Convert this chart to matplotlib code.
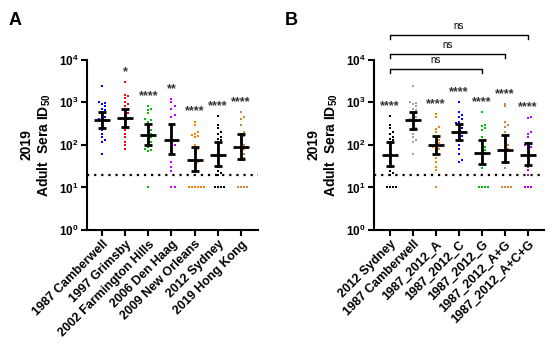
import numpy as np
import matplotlib
matplotlib.use('Agg')
import matplotlib.pyplot as plt
import matplotlib.transforms as mtransforms

plt.rcParams['font.family'] = ['Liberation Sans', 'DejaVu Sans']
plt.rcParams['font.weight'] = 'bold'
plt.rcParams['mathtext.fontset'] = 'custom'
plt.rcParams['mathtext.rm'] = 'Liberation Sans:bold'
plt.rcParams['mathtext.bf'] = 'Liberation Sans:bold'

# ---------------- panel A data ----------------
labels_a = ["1987 Camberwell", "1997 Grimsby", "2002 Farmington Hills", "2006 Den Haag",
            "2009 New Orleans", "2012 Sydney", "2019 Hong Kong"]
colors_a = ["#0000ff", "#ff0000", "#00c000", "#c000ff", "#ff8000", "#000000", "#c8873a"]
camberwell = [2400, 1000, 950, 900, 800, 700, 650, 600, 500, 450, 420, 400, 380, 350,
              300, 250, 220, 180, 150, 130, 120, 60]
grimsby = [3000, 1500, 1400, 1300, 1000, 900, 800, 700, 650, 550, 500, 420, 400, 350,
           300, 250, 220, 180, 150, 120, 100, 80]
farmington = [800, 700, 650, 550, 400, 380, 350, 300, 250, 220, 200, 180, 170, 150,
              140, 120, 110, 100, 90, 80, 75, 70, 10]
den_haag = [1200, 1000, 800, 700, 500, 450, 300, 250, 200, 150, 120, 100, 90, 70, 60,
            40, 30, 25, 10, 10]
new_orleans = [350, 300, 200, 180, 170, 160, 150, 100, 80, 70, 60, 50, 40, 35, 30,
               10, 10, 10, 10, 10, 10]
sydney = [480, 300, 250, 200, 180, 150, 140, 130, 120, 100, 80, 60, 50, 40, 30, 25,
          22, 20, 10, 10, 10, 10]
hong_kong = [600, 450, 400, 300, 200, 180, 160, 150, 130, 100, 90, 80, 70, 60, 55, 50,
             45, 10, 10, 10, 10]
groups_a = [camberwell, grimsby, farmington, den_haag, new_orleans, sydney, hong_kong]
center_a = [380, 430, 172, 130, 44, 58, 89]
low_a = [250, 265, 100, 61, 24, 32, 47]
high_a = [610, 700, 310, 310, 90, 117, 180]
stars_a = ["", "*", "****", "**", "****", "****", "****"]

# ---------------- panel B data ----------------
labels_b = ["2012 Sydney", "1987 Camberwell", "1987_2012_A", "1987_2012_C", "1987_2012_G",
            "1987_2012_A+G", "1987_2012_A+C+G"]
colors_b = ["#000000", "#a0a0a0", "#ff8000", "#0000ff", "#00c000", "#c8873a", "#c000ff"]
mut_a = [530, 450, 260, 240, 200, 150, 130, 120, 110, 100, 95, 90, 85, 80, 70, 60, 50,
         40, 30, 26, 10]
mut_c = [1000, 600, 500, 450, 400, 350, 320, 300, 280, 250, 220, 200, 180, 160, 150,
         130, 100, 80, 60, 45, 40]
mut_g = [600, 300, 280, 250, 230, 150, 130, 120, 100, 90, 85, 75, 70, 65, 60, 50, 40,
         28, 10, 10, 10, 10]
mut_ag = [920, 800, 350, 300, 270, 200, 170, 150, 130, 110, 100, 90, 80, 70, 60, 50,
          40, 28, 10, 10, 10, 10]
mut_acg = [450, 430, 200, 180, 150, 110, 100, 95, 90, 80, 60, 50, 40, 30, 26, 20, 10,
           10, 10]
groups_b = [sydney, camberwell, mut_a, mut_c, mut_g, mut_ag, mut_acg]
center_b = [58, 390, 100, 200, 65, 76, 58]
low_b = [32, 240, 61, 130, 36, 40, 34]
high_b = [117, 600, 163, 310, 130, 170, 110]
stars_b = ["****", "", "****", "****", "****", "****", "****"]
# brackets: (from group, to group, axes-y of bar)
brackets = [(0, 4, 0.947), (0, 5, 1.035), (0, 6, 1.147)]

cutoff = 20


def swarm(vals, dx=0.13, dy=0.06):
    logs = np.log10(vals)
    offs = np.zeros(len(vals))
    placed = []
    for i in np.argsort(logs):
        for k in range(40):
            cand = ((k + 1) // 2) * dx * (1 if k % 2 else -1)
            if all(abs(cand - ox) > dx * 0.9 or abs(logs[i] - oy) >= dy for ox, oy in placed):
                break
        offs[i] = cand
        placed.append((cand, logs[i]))
    return offs


def panel(ax, labels, colors, groups, center, low, high, stars, xlim):
    for i, (vals, c) in enumerate(zip(groups, colors)):
        x = i + swarm(vals)
        ax.scatter(x, vals, s=2.2, marker='s', color=c, linewidths=0, zorder=2)
        ax.vlines(i, low[i], high[i], color='black', lw=2, zorder=3)
        ax.hlines(center[i], i - 0.34, i + 0.34, color='black', lw=2, zorder=3)
        ax.hlines([low[i], high[i]], i - 0.17, i + 0.17, color='black', lw=2, zorder=3)
        if stars[i]:
            ax.text(i, max(vals) * 1.25, stars[i], ha='center', va='bottom',
                    fontsize=9, color='#333333')
    ax.axhline(cutoff, color='black', lw=1.6, ls=(0, (1, 2.2)), zorder=1)
    ax.set_yscale('log')
    ax.set_ylim(1, 1e4)
    ax.set_xlim(*xlim)
    ax.set_yticks([1, 10, 100, 1000, 10000])
    ax.set_yticklabels([r'$\mathbf{10^{%d}}$' % k for k in range(5)], fontsize=8.5)
    ax.yaxis.set_minor_locator(plt.NullLocator())
    ax.set_xticks(range(len(labels)))
    ax.set_xticklabels(labels, rotation=45, ha='right', rotation_mode='anchor',
                       fontsize=9, fontweight='bold')
    ax.spines['top'].set_visible(False)
    ax.spines['right'].set_visible(False)
    for s in ('left', 'bottom'):
        ax.spines[s].set_linewidth(1.5)
    ax.tick_params(width=1.5, length=4, pad=2)
    ax.set_ylabel('2019\nAdult  Sera $\\mathbf{ID_{50}}$', fontsize=10,
                  fontweight='bold', labelpad=4)


fig = plt.figure(figsize=(5.5, 3.5), dpi=100)
ax_a = fig.add_axes([0.158, 0.343, 0.311, 0.486])
ax_b = fig.add_axes([0.680, 0.343, 0.309, 0.486])

panel(ax_a, labels_a, colors_a, groups_a, center_a, low_a, high_a, stars_a, (-0.65, 6.73))
panel(ax_b, labels_b, colors_b, groups_b, center_b, low_b, high_b, stars_b, (-0.7, 6.7))

trans = mtransforms.blended_transform_factory(ax_b.transData, ax_b.transAxes)
for g0, g1, yb in brackets:
    ax_b.plot([g0, g0, g1, g1], [yb - 0.025, yb, yb, yb - 0.025], color='black',
              lw=1, transform=trans, clip_on=False)
    ax_b.text((g0 + g1) / 2, yb + 0.02, 'ns', ha='center', va='bottom', fontsize=7,
              fontweight='normal', transform=trans)

fig.text(0.015, 0.965, 'A', fontsize=13, fontweight='bold', va='top')
fig.text(0.518, 0.965, 'B', fontsize=13, fontweight='bold', va='top')

fig.savefig('out.png', dpi=100)
